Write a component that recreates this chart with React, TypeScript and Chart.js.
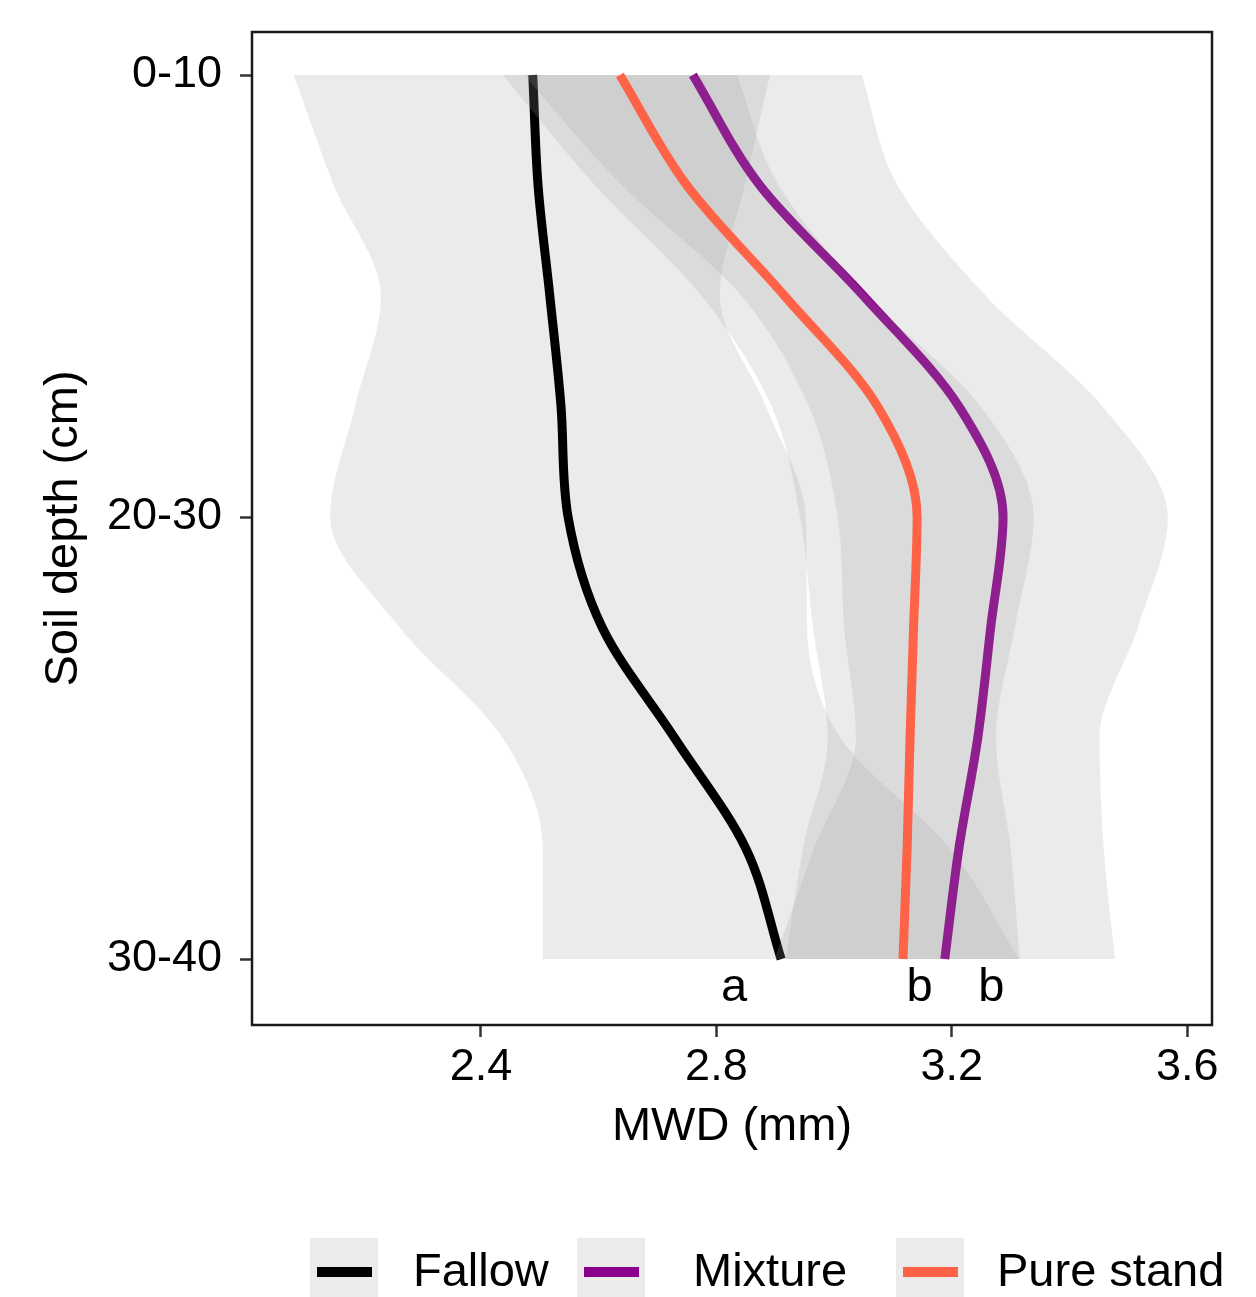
import React, { useEffect, useRef } from 'react';
import { Chart, registerables } from 'chart.js';

Chart.register(...registerables);

// ---- Data ----
// depth positions on the factor axis (1 = 0-10, 2 = 20-30, 3 = 30-40), sampled along the smooth
const depthLevels = [1, 1.25, 1.5, 1.75, 2, 2.25, 2.5, 2.75, 3];
const depthTickValues = [1, 2, 3];
const depthTickLabels = ['0-10', '20-30', '30-40'];
const mwdTickValues = [2.4, 2.8, 3.2, 3.6];

const seriesNames = ['Fallow', 'Mixture', 'Pure stand'];
const seriesColors = ['#000000', '#8B008B', '#FF6347'];

const fallowMWD = [2.488, 2.497, 2.517, 2.536, 2.548, 2.606, 2.729, 2.85, 2.91];
const fallowLow = [2.082, 2.15, 2.23, 2.186, 2.144, 2.262, 2.437, 2.505, 2.505];
const fallowHigh = [2.891, 2.848, 2.806, 2.884, 2.952, 2.954, 3.011, 3.197, 3.314];

const mixtureMWD = [2.76, 2.874, 3.05, 3.212, 3.287, 3.266, 3.244, 3.212, 3.188];
const mixtureLow = [2.473, 2.64, 2.843, 2.957, 3.006, 3.017, 3.037, 2.966, 2.899];
const mixtureHigh = [3.047, 3.108, 3.258, 3.456, 3.567, 3.516, 3.451, 3.458, 3.477];

const pureMWD = [2.636, 2.75, 2.916, 3.074, 3.141, 3.135, 3.129, 3.124, 3.117];
const pureLow = [2.437, 2.594, 2.775, 2.894, 2.942, 2.964, 2.989, 2.947, 2.918];
const pureHigh = [2.835, 2.906, 3.057, 3.249, 3.339, 3.307, 3.275, 3.3, 3.315];

const sigLetters = ['a', 'b', 'b'];
const sigLetterMWD = [2.83, 3.145, 3.267];

// ---- Styles ----
const FONT = "'Liberation Sans', Arial, Helvetica, sans-serif";
const RIBBON = 'rgba(153,153,153,0.2)';

const decorPlugin = {
  id: 'decor',
  afterDatasetsDraw(chart: any) {
    const { ctx, chartArea: a, scales } = chart;
    ctx.save();
    ctx.font = `47px ${FONT}`;
    ctx.fillStyle = '#000';
    ctx.textAlign = 'center';
    ctx.textBaseline = 'alphabetic';
    const yBase = scales.y.getPixelForValue(depthTickValues[2]) + 42;
    sigLetters.forEach((l, i) => {
      ctx.fillText(l, scales.x.getPixelForValue(sigLetterMWD[i]), yBase);
    });
    ctx.strokeStyle = '#1a1a1a';
    ctx.lineWidth = 2.5;
    ctx.strokeRect(a.left, a.top, a.right - a.left, a.bottom - a.top);
    ctx.restore();
  },
  afterDraw(chart: any) {
    const { ctx } = chart;
    const keyX = [310, 577, 896];
    const textX = [413, 693, 997];
    ctx.save();
    seriesNames.forEach((name, i) => {
      ctx.fillStyle = '#ffffff';
      ctx.fillRect(keyX[i], 1238, 68, 70);
      ctx.fillStyle = RIBBON;
      ctx.fillRect(keyX[i], 1238, 68, 70);
      ctx.strokeStyle = seriesColors[i];
      ctx.lineWidth = 10;
      ctx.lineCap = 'butt';
      ctx.beginPath();
      ctx.moveTo(keyX[i] + 7, 1272);
      ctx.lineTo(keyX[i] + 62, 1272);
      ctx.stroke();
      ctx.fillStyle = '#000';
      ctx.font = `47px ${FONT}`;
      ctx.textAlign = 'left';
      ctx.textBaseline = 'alphabetic';
      ctx.fillText(name, textX[i], 1286);
    });
    ctx.restore();
  },
};

export default function App() {
  const ref = useRef<HTMLCanvasElement>(null);

  useEffect(() => {
    const mk = (vals: number[]) => vals.map((v, i) => ({ x: v, y: depthLevels[i] }));
    const groups = [
      { name: seriesNames[0], mean: fallowMWD, low: fallowLow, high: fallowHigh, color: seriesColors[0] },
      { name: seriesNames[1], mean: mixtureMWD, low: mixtureLow, high: mixtureHigh, color: seriesColors[1] },
      { name: seriesNames[2], mean: pureMWD, low: pureLow, high: pureHigh, color: seriesColors[2] },
    ];
    const datasets: any[] = [];
    groups.forEach((g, gi) => {
      const base = 9 - gi * 3;
      datasets.push({
        label: g.name + ' lower', data: mk(g.low), borderWidth: 0, pointRadius: 0,
        fill: false, order: base, cubicInterpolationMode: 'monotone',
      });
      datasets.push({
        label: g.name + ' upper', data: mk(g.high), borderWidth: 0, pointRadius: 0,
        fill: '-1', backgroundColor: RIBBON, order: base - 1, cubicInterpolationMode: 'monotone',
      });
      datasets.push({
        label: g.name, data: mk(g.mean), borderColor: g.color, borderWidth: 9, pointRadius: 0,
        fill: false, order: base - 2, cubicInterpolationMode: 'monotone', borderCapStyle: 'butt',
      });
    });

    const tickGrid = {
      display: true, drawOnChartArea: false, drawTicks: true,
      tickLength: 12, tickWidth: 2.5, tickColor: '#333333',
    };

    const chart = new Chart(ref.current as HTMLCanvasElement, {
      type: 'line',
      data: { datasets },
      plugins: [decorPlugin],
      options: {
        indexAxis: 'y',
        animation: false,
        responsive: false,
        devicePixelRatio: 1,
        events: [],
        layout: { padding: { left: 0, right: 44, top: 32, bottom: 122 } },
        plugins: { legend: { display: false }, tooltip: { enabled: false } },
        scales: {
          x: {
            type: 'linear', position: 'bottom', min: 2.011, max: 3.642,
            afterBuildTicks: (s: any) => { s.ticks = mwdTickValues.map((v) => ({ value: v })); },
            afterFit: (s: any) => {
              s.height = 150;
              s.paddingLeft = 0;
              s.paddingRight = 0;
            },
            ticks: {
              callback: (v: any) => Number(v).toFixed(1),
              font: { size: 45, family: FONT }, color: '#000', padding: 4,
              maxRotation: 0, autoSkip: false,
            },
            grid: tickGrid,
            border: { display: false },
            title: {
              display: true, text: 'MWD (mm)', color: '#000',
              font: { size: 47, family: FONT }, padding: { top: 0, bottom: 20 },
            },
          },
          y: {
            type: 'linear', position: 'left', reverse: true, min: 0.9027, max: 3.1493,
            afterBuildTicks: (s: any) => { s.ticks = depthTickValues.map((v) => ({ value: v })); },
            afterFit: (s: any) => {
              s.width = 252;
              s.paddingTop = 0;
              s.paddingBottom = 0;
            },
            ticks: {
              callback: (v: any) => depthTickLabels[depthTickValues.indexOf(Number(v))] ?? '',
              font: { size: 45, family: FONT }, color: '#000', padding: 18, autoSkip: false,
            },
            grid: tickGrid,
            border: { display: false },
            title: {
              display: true, text: 'Soil depth (cm)', color: '#000',
              font: { size: 47, family: FONT }, padding: { top: 36, bottom: 0 },
            },
          },
        },
      } as any,
    });
    return () => chart.destroy();
  }, []);

  return (
    <div style={{ position: 'absolute', left: 0, top: 0, width: 1256, height: 1297, background: '#ffffff' }}>
      <canvas ref={ref} width={1256} height={1297} style={{ display: 'block', width: 1256, height: 1297 }} />
    </div>
  );
}
